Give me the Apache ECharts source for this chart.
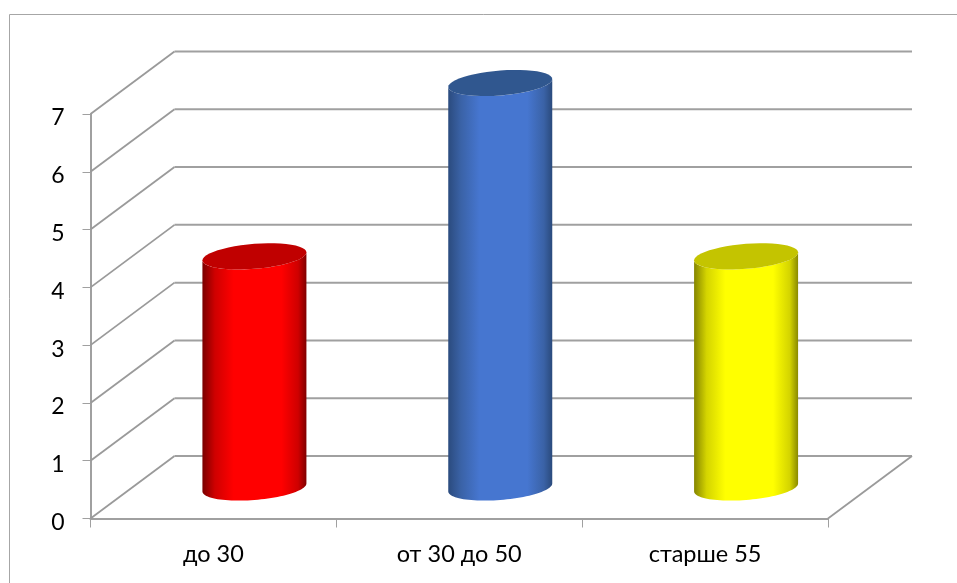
<!DOCTYPE html>
<html><head><meta charset="utf-8">
<style>html,body{margin:0;padding:0;background:#fff}#c{width:957px;height:583px}</style>
<script src="https://cdn.jsdelivr.net/npm/echarts@6/dist/echarts.min.js"></script>
</head><body><div id="c"></div>
<script>
const categories = ['до 30', 'от 30 до 50', 'старше 55'];
const values = [4, 7, 4];
const yTicks = [0, 1, 2, 3, 4, 5, 6, 7];
const bodyEdgeL = ['#7a0000', '#2b4b7e', '#858500'];
const bodyEdgeR = ['#800000', '#2a4a7c', '#8a8a00'];
const bodyShade = ['#cf0000', '#3a62a6', '#d4d400'];
const bodyMid = ['#ff0000', '#4676d0', '#ffff00'];
const capColor = ['#c00000', '#30578f', '#c4c400'];

const FONT = 'Lato, "Noto Sans"';
const GRAY = '#a0a0a0';
const DEPTH_X = 84, DEPTH_Y = 62.5;
const R_X = 52, R_Y = 12.5, SHEAR = 4;

function arc(cx, cy, from, to) {
  const pts = [];
  const n = 48;
  for (let k = 0; k <= n; k++) {
    const t = from + (to - from) * k / n;
    pts.push([cx + R_X * Math.cos(t), cy - SHEAR * Math.cos(t) + R_Y * Math.sin(t)]);
  }
  return pts;
}

const chart = echarts.init(document.getElementById('c'), null, {renderer: 'canvas'});
chart.setOption({
  animation: false,
  backgroundColor: '#fff',
  grid: {left: 90.5, right: 129, top: 114, bottom: 64.5, containLabel: false},
  graphic: [
    {type: 'polyline', silent: true, z: 0,
     shape: {points: [[9.5, 583], [9.5, 14.5], [957, 14.5]]},
     style: {stroke: '#a6a6a6', lineWidth: 1, fill: null}}
  ],
  xAxis: {
    type: 'category', data: categories, boundaryGap: true,
    axisLine: {show: true, lineStyle: {color: GRAY, width: 2}},
    axisTick: {show: true, length: 9, lineStyle: {color: GRAY, width: 1}},
    axisLabel: {color: '#000', fontFamily: FONT, fontSize: 23.5, margin: 24}
  },
  yAxis: {
    type: 'value', min: 0, max: 7, interval: 1,
    axisLine: {show: true, lineStyle: {color: GRAY, width: 2}},
    axisTick: {show: true, length: 8, lineStyle: {color: GRAY, width: 1}},
    axisLabel: {color: '#000', fontFamily: FONT, fontSize: 23, margin: 26, verticalAlign: 'top', lineHeight: 8},
    splitLine: {show: false}
  },
  series: [
    {
      type: 'custom', clip: false, z: 1, silent: true,
      data: yTicks,
      encode: {y: 0},
      renderItem(params, api) {
        const cs = params.coordSys;
        const v = api.value(0);
        const y = api.coord([0, v])[1];
        const x0 = cs.x, x1 = cs.x + cs.width;
        const kids = [
          {type: 'line', shape: {x1: x0, y1: y, x2: x0 + DEPTH_X, y2: y - DEPTH_Y},
           style: {stroke: '#9a9a9a', lineWidth: 1.8}},
          {type: 'line', shape: {x1: x0 + DEPTH_X, y1: y - DEPTH_Y, x2: x1 + DEPTH_X, y2: y - DEPTH_Y},
           style: {stroke: GRAY, lineWidth: 2}}
        ];
        if (v === 0) kids.push({type: 'line', shape: {x1: x1, y1: y, x2: x1 + DEPTH_X, y2: y - DEPTH_Y},
           style: {stroke: '#9a9a9a', lineWidth: 1.8}});
        return {type: 'group', children: kids};
      }
    },
    {
      type: 'custom', clip: false, z: 3, silent: true,
      data: values.map((v, i) => [i, v]),
      encode: {x: 0, y: 1},
      renderItem(params, api) {
        const i = api.value(0);
        const top = api.coord([i, api.value(1)]);
        const bot = api.coord([i, 0]);
        const cx = top[0] + 41;
        const cyT = top[1] - 31, cyB = bot[1] - 31;
        const bottomArc = arc(cx, cyB, Math.PI, 0);
        const topArc = arc(cx, cyT, 0, Math.PI);
        const pts = [[cx - R_X, cyT + SHEAR]].concat(bottomArc, [[cx + R_X, cyT - SHEAR]], topArc);
        const grad = new echarts.graphic.LinearGradient(0, 0, 1, 0, [
          {offset: 0, color: bodyEdgeL[i]},
          {offset: 0.12, color: bodyShade[i]},
          {offset: 0.3, color: bodyMid[i]},
          {offset: 0.76, color: bodyMid[i]},
          {offset: 0.92, color: bodyShade[i]},
          {offset: 1, color: bodyEdgeR[i]}
        ]);
        return {type: 'group', children: [
          {type: 'polygon', shape: {points: pts}, style: {fill: grad}},
          {type: 'polygon', shape: {points: arc(cx, cyT, 0, Math.PI * 2)}, style: {fill: capColor[i]}}
        ]};
      }
    }
  ]
});
</script></body></html>
